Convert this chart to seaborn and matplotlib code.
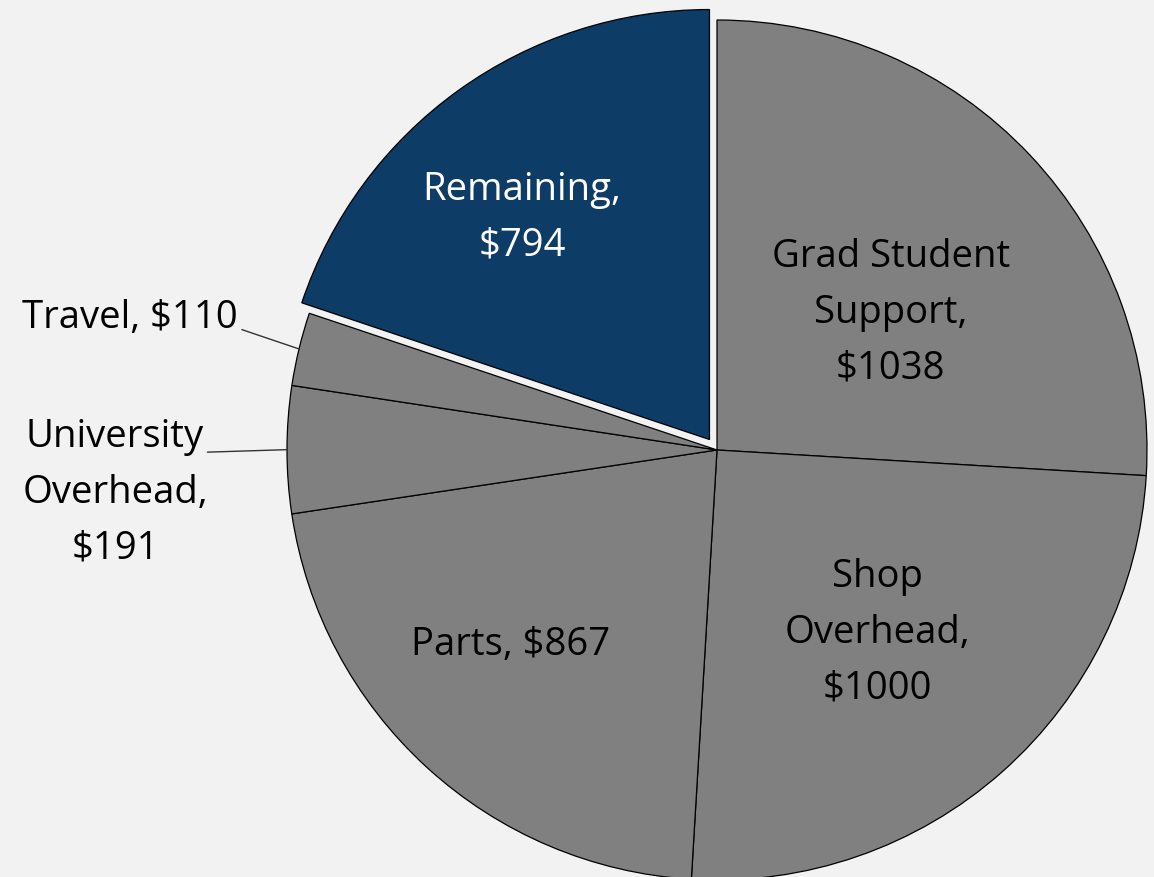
import numpy as np
import matplotlib
matplotlib.use("Agg")
import matplotlib.pyplot as plt
import seaborn as sns

categories = ["Grad Student Support", "Shop Overhead", "Parts",
              "University Overhead", "Travel", "Remaining"]
values = [1038, 1000, 867, 191, 110, 794]
label_texts = ["Grad Student\nSupport,\n$1038", "Shop\nOverhead,\n$1000",
               "Parts, $867", "University\nOverhead,\n$191",
               "Travel, $110", "Remaining,\n$794"]

BG = "#f2f2f2"
GRAY = "#808080"
BLUE = "#0d3c66"
colors = [GRAY, GRAY, GRAY, GRAY, GRAY, BLUE]
explode = [0, 0, 0, 0, 0, 0.03]

sns.set_theme(style="white", rc={"figure.facecolor": BG, "axes.facecolor": BG})
plt.rcParams['font.family'] = ['Open Sans', 'DejaVu Sans']

W, H = 1154, 877
fig = plt.figure(figsize=(W / 100, H / 100), dpi=100)
ax = fig.add_axes([0, 0, 1, 1])
ax.set_facecolor(BG)

wedges, _ = ax.pie(values, colors=colors, startangle=90, counterclock=False,
                   explode=explode, radius=1.0,
                   wedgeprops=dict(edgecolor="black", linewidth=0.9))

# pixel mapping: center at (717, 450) px from top-left, radius 430 px
cx, cy, R = 717, 450, 430
ax.set_xlim(-cx / R, (W - cx) / R)
ax.set_ylim(-(H - cy) / R, cy / R)
ax.set_aspect("equal")
ax.axis("off")

FS = 27.5
LS = 1.62

# inside labels: (index, radial factor, angle offset deg, color)
inside = [(0, 0.515, -5.0, "black"), (1, 0.565, -0.4, "black"),
          (2, 0.66, -4.3, "black"), (5, 0.675, 4.5, "white")]
for i, rf, dang, col in inside:
    w = wedges[i]
    mid = np.deg2rad((w.theta1 + w.theta2) / 2 + dang)
    c = w.center
    ax.text(c[0] + rf * np.cos(mid), c[1] + rf * np.sin(mid), label_texts[i],
            ha="center", va="center", multialignment="center",
            fontsize=FS, color=col, linespacing=LS)

# outside labels with leader lines
def edge_point(w):
    mid = np.deg2rad((w.theta1 + w.theta2) / 2)
    return np.cos(mid) * w.r, np.sin(mid) * w.r

# Travel
wt = wedges[4]
ex, ey = edge_point(wt)
ax.plot([-1.105, ex], [0.28, ey], color="#333333", lw=1.0)
ax.text(-1.115, 0.307, label_texts[4], ha="right", va="center",
        fontsize=FS, color="black")

# University Overhead
wu = wedges[3]
ex, ey = edge_point(wu)
ax.plot([-1.185, ex], [-0.005, ey], color="#333333", lw=1.0)
ax.text(-1.40, -0.10, label_texts[3], ha="center", va="center",
        multialignment="center", fontsize=FS, color="black", linespacing=LS)

fig.savefig("out.png", dpi=100, facecolor=BG)
